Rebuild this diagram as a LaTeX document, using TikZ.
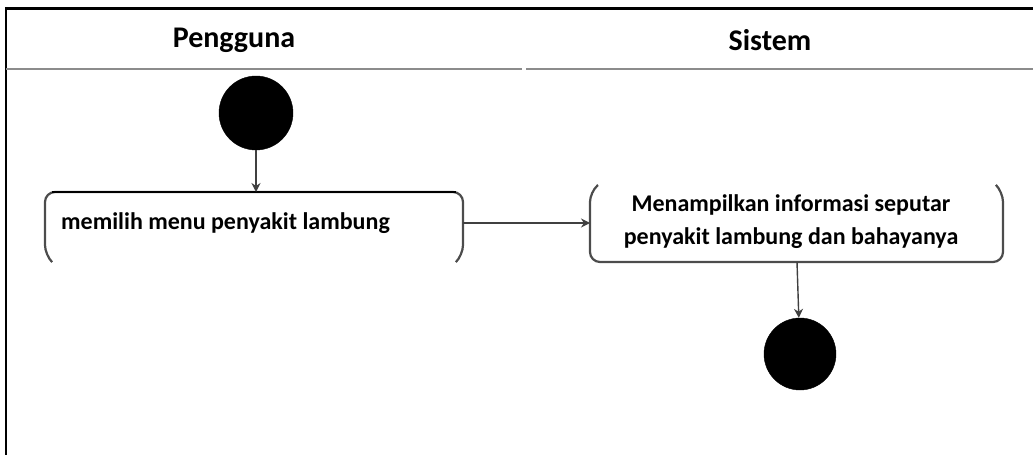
\documentclass[tikz,border=0pt]{standalone}
\usepackage{fontspec}
\setmainfont{Carlito}
\usetikzlibrary{arrows.meta}
\tikzset{
  lane/.style={font=\bfseries\fontsize{30}{34}\selectfont},
  acttext/.style={font=\bfseries\fontsize{24}{33}\selectfont, align=center, inner sep=0pt},
  dot/.style={circle, fill=black, draw=black, minimum size=74pt, inner sep=0pt},
  flow/.style={draw=black!75, line width=1.4pt, -{Stealth[length=9pt,width=9pt]}},
  edge/.style={draw=black!70, line width=2.2pt},
}
\begin{document}
\begin{tikzpicture}[x=1pt,y=-1pt]
\useasboundingbox (0,0) rectangle (1033,455);
% frame
\draw[black, line width=3pt] (5,8) -- (1033,8);
\draw[black, line width=2.2pt] (6,8) -- (6,455);
\draw[black!45, line width=2pt] (6,69) -- (522,69);
\draw[black!45, line width=2pt] (526,69) -- (1033,69);
\node[lane] (h1) at (234,40) {Pengguna};
\node[lane] (h2) at (770,40) {Sistem};
% initial
\node[dot] (start) at (256,113) {};
% activity 1 (top edge drawn, bottom open)
\draw[edge, rounded corners=10pt] (52,262) -- (45,255) -- (45,192) -- (463,192) -- (463,255) -- (456,262);
\draw[black, line width=1.6pt] (52,192) -- (456,192);
\node[acttext, anchor=west] (a1) at (61,223) {memilih menu penyakit lambung};
\coordinate (a1e) at (463,223);
\coordinate (a1n) at (256,192);
% activity 2 (bottom edge drawn, top open)
\draw[edge, rounded corners=10pt] (598,185) -- (590,192) -- (590,262) -- (1003,262) -- (1003,192) -- (996,185);
\node[acttext] (a2) at (791,222) {Menampilkan informasi seputar\\penyakit lambung dan bahayanya};
\coordinate (a2w) at (590,223);
\coordinate (a2s) at (797,262);
% final
\node[dot, minimum size=72pt] (end) at (800,354) {};
% connectors
\draw[flow] (start) -- (a1n);
\draw[flow] (a1e) -- (a2w);
\draw[flow] (a2s) -- (end);
\end{tikzpicture}
\end{document}
